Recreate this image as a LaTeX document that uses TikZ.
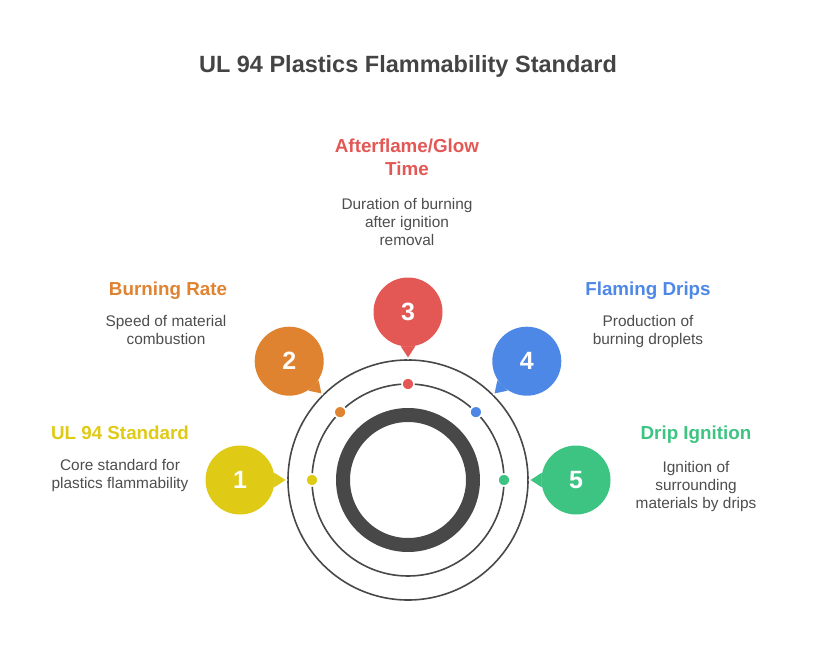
\documentclass[tikz,border=0pt]{standalone}
\usepackage{fontspec}
\setmainfont{Liberation Sans}
\usetikzlibrary{calc}
\definecolor{ulyellow}{HTML}{DFCA16}
\definecolor{ulorange}{HTML}{DF8330}
\definecolor{ulred}{HTML}{E35855}
\definecolor{ulblue}{HTML}{4E88E6}
\definecolor{ulgreen}{HTML}{3DC483}
\definecolor{ulgray}{HTML}{484848}
\definecolor{txtgray}{HTML}{4D4D4D}
\definecolor{titlegray}{HTML}{444444}

\begin{document}
\begin{tikzpicture}[x=1pt,y=-1pt,
  ring/.style={draw=ulgray, line width=1.6pt},
  dot/.style={circle, draw=white, line width=1.6pt, inner sep=0pt, minimum size=12pt},
  bubble/.style={circle, inner sep=0pt, minimum size=69pt, text=white, font=\fontsize{25}{25}\selectfont\bfseries},
  tail/.style={draw=white, line width=1.4pt, line join=round},
  heading/.style={font=\fontsize{18.8}{23}\selectfont\bfseries, align=center},
  desc/.style={text=txtgray, font=\fontsize{15.4}{18}\selectfont, align=center}]
  \useasboundingbox (0,0) rectangle (816,660);
  \node[font=\fontsize{23.5}{28}\selectfont\bfseries, text=titlegray] (title) at (408,66) {UL 94 Plastics Flammability Standard};
  \coordinate (C) at (408,480);
  \draw[ring] (C) circle (120);
  \draw[ring] (C) circle (96);
  \draw[draw=ulgray, line width=14pt] (C) circle (65);

  \fill[ulyellow, tail] ($(C)+(180:121)$) -- ($(C)+(180:168)+(15:34.5)$) -- ($(C)+(180:168)+(-15:34.5)$) -- cycle;
  \node[bubble, fill=ulyellow] (b1) at ($(C)+(180:168)$) {1};
  \node[dot, fill=ulyellow] (d1) at ($(C)+(180:96)$) {};
  \node[heading, text=ulyellow, anchor=base] (h1) at (120,439) {UL 94 Standard};
  \node[desc] (t1) at (120,476) {Core standard for\\plastics flammability};

  \fill[ulorange, tail] ($(C)+(225:121)$) -- ($(C)+(225:168)+(60:34.5)$) -- ($(C)+(225:168)+(30:34.5)$) -- cycle;
  \node[bubble, fill=ulorange] (b2) at ($(C)+(225:168)$) {2};
  \node[dot, fill=ulorange] (d2) at ($(C)+(225:96)$) {};
  \node[heading, text=ulorange, anchor=base] (h2) at (168,295) {Burning Rate};
  \node[desc] (t2) at (166,330) {Speed of material\\combustion};

  \fill[ulred, tail] ($(C)+(270:121)$) -- ($(C)+(270:168)+(105:34.5)$) -- ($(C)+(270:168)+(75:34.5)$) -- cycle;
  \node[bubble, fill=ulred] (b3) at ($(C)+(270:168)$) {3};
  \node[dot, fill=ulred] (d3) at ($(C)+(270:96)$) {};
  \node[heading, text=ulred] (h3) at (407,157) {Afterflame/Glow\\Time};
  \node[desc] (t3) at (407,222) {Duration of burning\\after ignition\\removal};

  \fill[ulblue, tail] ($(C)+(315:121)$) -- ($(C)+(315:168)+(150:34.5)$) -- ($(C)+(315:168)+(120:34.5)$) -- cycle;
  \node[bubble, fill=ulblue] (b4) at ($(C)+(315:168)$) {4};
  \node[dot, fill=ulblue] (d4) at ($(C)+(315:96)$) {};
  \node[heading, text=ulblue, anchor=base] (h4) at (648,295) {Flaming Drips};
  \node[desc] (t4) at (648,332) {Production of\\burning droplets};

  \fill[ulgreen, tail] ($(C)+(0:121)$) -- ($(C)+(0:168)+(195:34.5)$) -- ($(C)+(0:168)+(165:34.5)$) -- cycle;
  \node[bubble, fill=ulgreen] (b5) at ($(C)+(0:168)$) {5};
  \node[dot, fill=ulgreen] (d5) at ($(C)+(0:96)$) {};
  \node[heading, text=ulgreen, anchor=base] (h5) at (696,439) {Drip Ignition};
  \node[desc] (t5) at (696,487) {Ignition of\\surrounding\\materials by drips};
\end{tikzpicture}
\end{document}
